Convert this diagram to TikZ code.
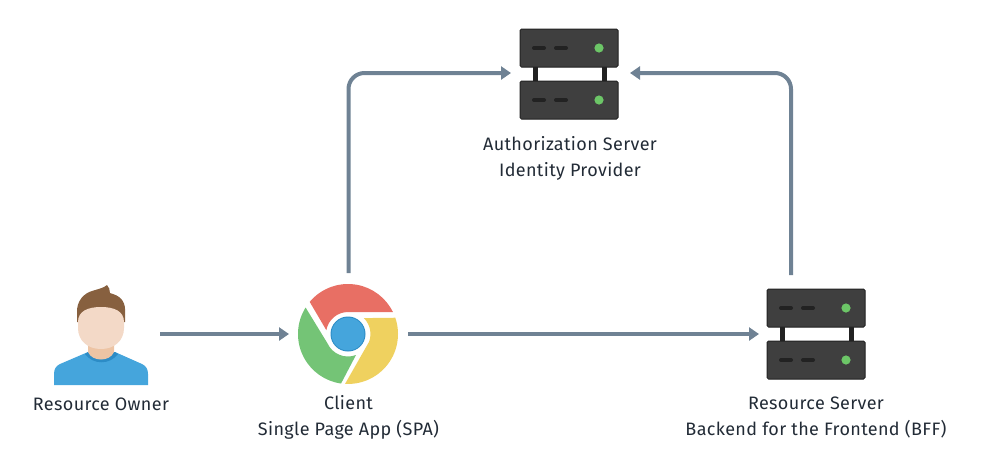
\documentclass[tikz,border=0pt]{standalone}
\usepackage{fontspec}
\setmainfont{Fira Sans}[LetterSpace=2]
\usetikzlibrary{arrows.meta}
\definecolor{arrowc}{HTML}{6F8294}
\definecolor{srv}{HTML}{3F3F3F}
\definecolor{srvd}{HTML}{222222}
\definecolor{led}{HTML}{6CC667}
\definecolor{hair}{HTML}{87603F}
\definecolor{skin}{HTML}{F3D9C7}
\definecolor{neck}{HTML}{EDC4A4}
\definecolor{shirt}{HTML}{45A5DC}
\definecolor{collar}{HTML}{2C8CC6}
\definecolor{cred}{HTML}{E86F64}
\definecolor{cgreen}{HTML}{74C476}
\definecolor{cyellow}{HTML}{EFD15F}
\definecolor{labelc}{HTML}{222B36}
\tikzset{
  anchorbox/.style={inner sep=0pt,outer sep=0pt,minimum width=#1},
  flow/.style={draw=arrowc,line width=4pt,rounded corners=16pt,-{Triangle[length=10pt,width=13pt]}},
  caption/.style={align=center,font=\fontsize{18}{26}\selectfont,text=labelc,inner sep=0pt},
  pics/serverstack/.style={code={
    \fill[srvd] (13,36) rectangle (18,54);
    \fill[srvd] (82,36) rectangle (87,54);
    \foreach \yy in {0,52}{
      \filldraw[fill=srv,draw=srvd,line width=1pt,rounded corners=1.5pt] (0,\yy) rectangle (98,\yy+38);
      \draw[srvd,line width=4pt,line cap=round] (14,\yy+19) -- (24,\yy+19);
      \draw[srvd,line width=4pt,line cap=round] (36,\yy+19) -- (46,\yy+19);
      \fill[led] (79,\yy+19) circle[radius=4.6];
    }
  }}
}
\begin{document}
\begin{tikzpicture}[x=1pt,y=-1pt]
\useasboundingbox (0,0) rectangle (1000,475);
% Anchor boxes used by the connectors
\node[anchorbox=118,minimum height=60pt] (owner) at (101,334) {};
\node[anchorbox=119,minimum height=122pt] (client) at (348.5,334) {};
\node[anchorbox=119,minimum height=100pt] (auth) at (570.5,73) {};
\node[anchorbox=64,minimum height=118pt] (res) at (791,334) {};
% Connectors
\draw[flow] (owner.east) -- (client.west);
\draw[flow] (client.east) -- (res.west);
\draw[flow] (client.north) |- (auth.west);
\draw[flow] (res.north) |- (auth.east);
% Servers
\pic at (520,29) {serverstack};
\pic at (767,289) {serverstack};
% Person
\fill[shirt] (54,385) -- (54,374) .. controls (54,369) and (56,366) .. (60,364)
  -- (88,352) -- (115,352) -- (142,364) .. controls (146,366) and (148,369) .. (148,374)
  -- (148,385) -- cycle;
\fill[collar] (85,354) -- (88,352) -- (115,352) -- (118,354) .. controls (110,365) and (93,365) .. (85,354) -- cycle;
\fill[neck] (88,340) rectangle (114,352) (88,352) .. controls (92,362) and (110,362) .. (114,352) -- cycle;
\fill[hair] (77,314) .. controls (76,300) and (85,293) .. (92,291) .. controls (98,289) and (104,288) .. (107,285)
  .. controls (109,287) and (110,290) .. (110,293) -- (113,294) .. controls (122,297) and (126,303) .. (125,314)
  -- (125,322) -- (77,322) -- cycle;
\fill[skin] (78,322) .. controls (78,311) and (88,307) .. (101,307) .. controls (114,307) and (124,311) .. (124,322)
  -- (124,328) .. controls (124,341) and (114,349) .. (101,349) .. controls (88,349) and (78,341) .. (78,328) -- cycle;
% Chrome
\fill[cred] (220:50) ++(348,334) arc[start angle=220,end angle=334,radius=50] -- (348,312) arc[start angle=270,end angle=190,radius=22] -- cycle;
\fill[cgreen] (212:50) ++(348,334) arc[start angle=212,end angle=98,radius=50] -- (356,355) arc[start angle=69,end angle=156,radius=22.5] -- cycle;
\fill[cyellow] (341:50) ++(348,334) arc[start angle=341,end angle=453.4,radius=50] -- (369.1,341.7) arc[start angle=20,end angle=-45,radius=22.5] -- cycle;
\fill[collar] (348,334) circle[radius=17.5];
\fill[shirt] (348,334) circle[radius=16.5];
% Labels
\node[caption] (ownerlabel) at (101,404.5) {Resource Owner};
\node[caption] (clientlabel) at (348.5,417) {Client\\Single Page App (SPA)};
\node[caption] (authlabel) at (570,158) {Authorization Server\\Identity Provider};
\node[caption] (reslabel) at (816,417) {Resource Server\\Backend for the Frontend (BFF)};
\end{tikzpicture}
\end{document}
